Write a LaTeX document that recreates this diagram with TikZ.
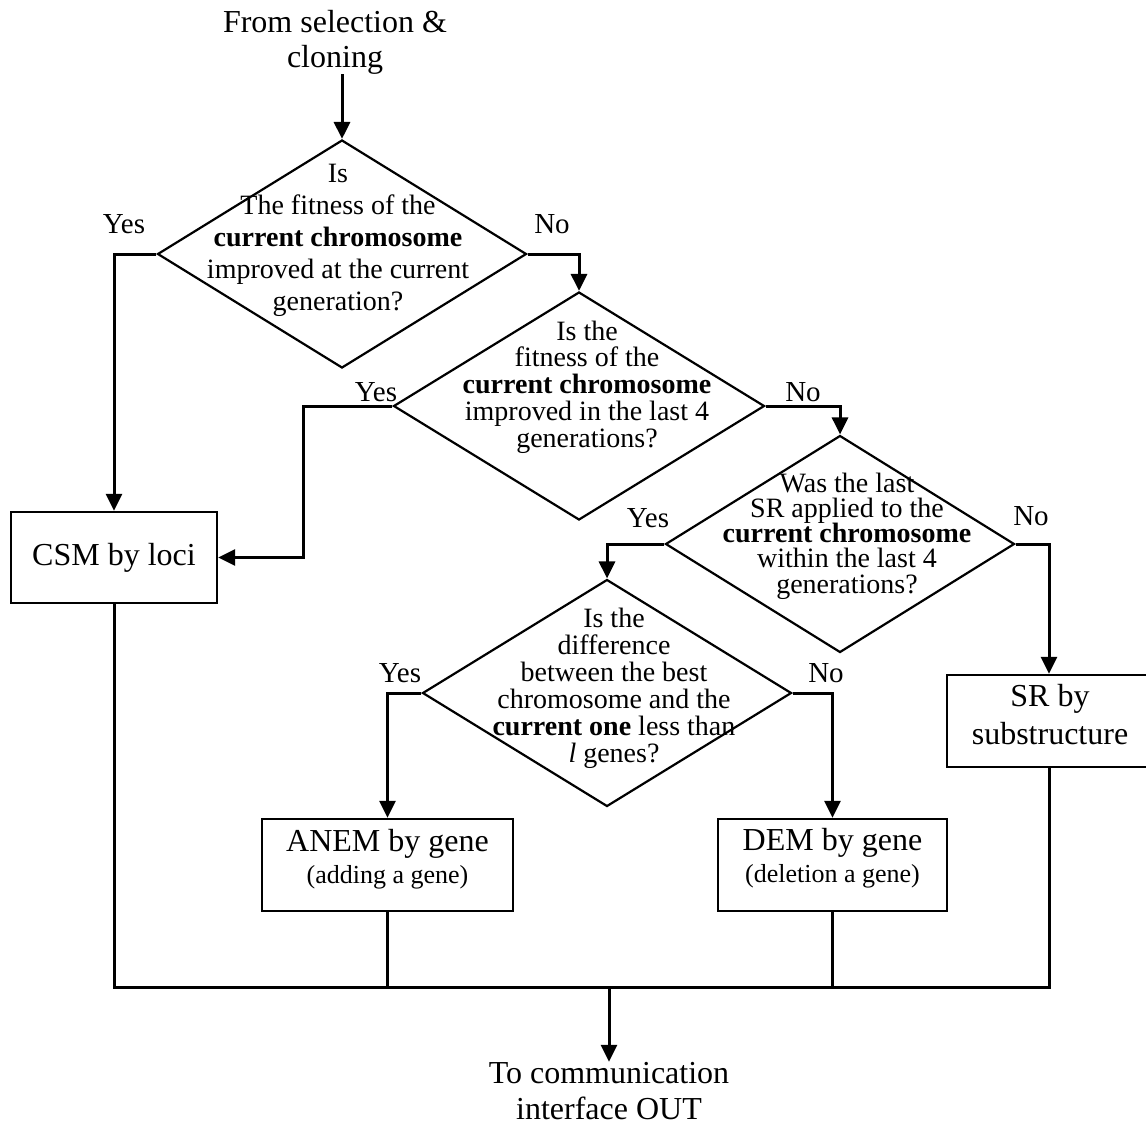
\documentclass[tikz,border=0pt]{standalone}
\usepackage{fontspec}
\setmainfont{Liberation Serif}
\usetikzlibrary{shapes.geometric,arrows.meta}

\begin{document}
\begin{tikzpicture}[x=0.5pt,y=-0.5pt,
  decision/.style={diamond, draw, line width=1.1pt, inner sep=0pt},
  process/.style={rectangle, draw, line width=1.2pt, inner sep=0pt},
  flow/.style={line width=1.5pt, -{Triangle[length=8.5pt,width=8pt]}},
  link/.style={line width=1.5pt},
  plain/.style={inner sep=0pt, align=center},
  qtext/.style={plain, font={\fontsize{14}{#1}\selectfont\lineskiplimit=-20pt}},
  answer/.style={inner sep=0pt, font=\fontsize{14.5}{16}\selectfont},
  bigtext/.style={plain, font={\fontsize{16}{#1}\selectfont\lineskiplimit=-20pt}},
]
\useasboundingbox (0,0) rectangle (1146,1126);

% entry and exit texts
\node[bigtext=17.5] (src) at (335,42) {From selection \&\\cloning};
\node[bigtext=18] (dst) at (609,1091) {To communication\\interface OUT};

% decisions
\node[decision, minimum width=184.5pt, minimum height=114pt] (d1) at (342,254) {};
\node[decision, minimum width=185.5pt, minimum height=114pt] (d2) at (579,406) {};
\node[decision, minimum width=174.5pt, minimum height=108.5pt] (d3) at (840,544) {};
\node[decision, minimum width=184.5pt, minimum height=113.5pt] (d4) at (607,693) {};

\node[qtext=16] (q1) at (338,240) {Is\\The fitness of the\\\textbf{current chromosome}\\improved at the current\\generation?};
\node[qtext=13.4] (q2) at (587,387) {Is the\\fitness of the\\\textbf{current chromosome}\\improved in the last 4\\generations?};
\node[qtext=12.6] (q3) at (847,536) {Was the last\\SR applied to the\\\textbf{current chromosome}\\within the last 4\\generations?};
\node[qtext=13.5] (q4) at (614,688) {Is the\\difference\\between the best\\chromosome and the\\\textbf{current one} less than\\\textit{l} genes?};

% operators
\node[process, minimum width=103pt, minimum height=45.5pt, font=\fontsize{16}{18}\selectfont] (csm) at (114,557.5) {CSM by loci};
\node[process, minimum width=125.5pt, minimum height=46pt] (anem) at (387.5,865) {};
\node[process, minimum width=114.5pt, minimum height=46pt] (dem) at (832.5,865) {};
\node[process, minimum width=102pt, minimum height=46pt] (sr) at (1049,721) {};

\node[bigtext=16] (anemtxt) at (387.5,859) {ANEM by gene\\{\fontsize{13}{16}\selectfont (adding a gene)}};
\node[bigtext=16] (demtxt) at (832.5,858) {DEM by gene\\{\fontsize{13}{16}\selectfont (deletion a gene)}};
\node[bigtext=19] (srtxt) at (1050,715) {SR by\\substructure};

% branch labels
\node[answer] (y1) at (124,224) {Yes};
\node[answer] (n1) at (552,224) {No};
\node[answer] (y2) at (376,392) {Yes};
\node[answer] (n2) at (803,392) {No};
\node[answer] (y3) at (648,518) {Yes};
\node[answer] (n3) at (1031,516) {No};
\node[answer] (y4) at (400,673) {Yes};
\node[answer] (n4) at (826,673) {No};

% junctions
\coordinate (j2) at (303,406);
\coordinate (m) at (609,987);

% connectors
\draw[flow] (src.south -| d1.north) -- (d1.north);
\draw[flow] (d1.west) -| (csm.north);
\draw[flow] (d1.east) -| (d2.north);
\draw[flow] (d2.west) -- (j2) |- (csm.east);
\draw[flow] (d2.east) -| (d3.north);
\draw[flow] (d3.west) -| (d4.north);
\draw[flow] (d3.east) -| (sr.north);
\draw[flow] (d4.west) -| (anem.north);
\draw[flow] (d4.east) -| (dem.north);

\draw[link] (csm.south) |- (sr.south |- m) -- (sr.south);
\draw[link] (anem.south) -- (anem.south |- m);
\draw[link] (dem.south) -- (dem.south |- m);
\draw[flow] (m) -- (dst.north);
\end{tikzpicture}
\end{document}
